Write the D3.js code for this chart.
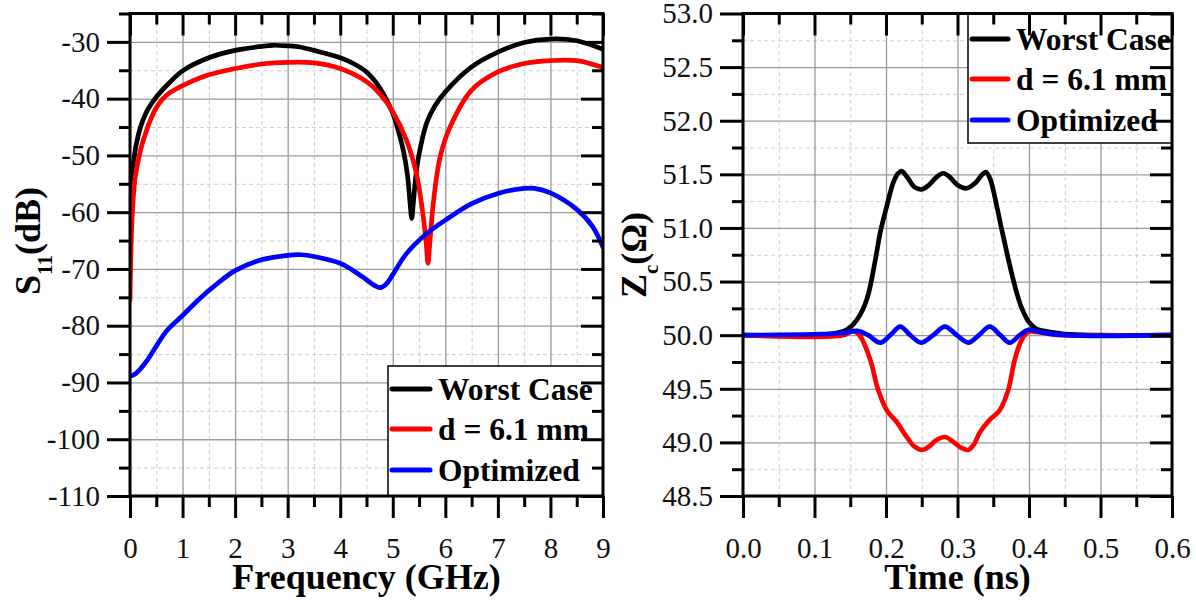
<!DOCTYPE html>
<html>
<head>
<meta charset="utf-8">
<script src="https://cdn.jsdelivr.net/npm/d3@7"></script>
<style>
  body { margin: 0; background: #fff; }
  svg { display: block; }
</style>
</head>
<body>
<svg id="chart" width="1196" height="604"></svg>
<script>
// ---- S11 vs frequency ----
const worstFreq = [0.0, 0.02, 0.07, 0.12, 0.2, 0.3, 0.4, 0.5, 0.75, 1.0, 1.5, 2.0, 2.5, 2.72, 3.0, 3.23, 3.5, 4.0, 4.25, 4.5, 4.76, 5.0, 5.1, 5.2, 5.28, 5.33, 5.36, 5.39, 5.44, 5.49, 5.64, 5.8, 6.0, 6.5, 7.0, 7.5, 8.0, 8.5, 9.0];
const worstS11 = [-58, -54, -50.9, -48, -45, -42.6, -41.0, -39.7, -37.2, -35.1, -32.8, -31.5, -30.8, -30.6, -30.7, -30.9, -31.5, -32.8, -33.8, -35.3, -38.2, -42.6, -45.5, -49.1, -53.5, -58.5, -61.1, -58.5, -53.5, -50.3, -44.4, -41.3, -38.8, -34.4, -31.8, -30.1, -29.5, -29.8, -31.3];

const d61Freq = [0.0, 0.01, 0.02, 0.04, 0.07, 0.1, 0.2, 0.3, 0.4, 0.5, 0.6, 0.75, 1.0, 1.5, 2.0, 2.5, 3.0, 3.5, 4.0, 4.5, 4.76, 5.0, 5.26, 5.45, 5.58, 5.64, 5.67, 5.7, 5.77, 5.9, 6.09, 6.5, 7.0, 7.5, 8.0, 8.5, 9.0];
const d61S11 = [-75.5, -70, -66, -61, -56.5, -53.8, -49.1, -46, -43.5, -41.6, -40.3, -39.0, -37.7, -35.8, -34.7, -33.9, -33.6, -33.7, -34.7, -37.0, -39.2, -42.3, -47.3, -53.2, -60.8, -66, -69.0, -66, -58.5, -50.3, -45.0, -38.5, -35.3, -33.8, -33.3, -33.3, -34.5];

const optFreq = [0.0, 0.1, 0.2, 0.35, 0.5, 0.7, 1.0, 1.33, 1.66, 2.0, 2.5, 3.0, 3.25, 3.5, 4.0, 4.25, 4.5, 4.65, 4.76, 4.88, 5.0, 5.26, 5.64, 6.0, 6.5, 7.0, 7.5, 7.7, 8.0, 8.5, 8.8, 9.0];
const optS11 = [-88.9, -88.5, -87.6, -85.8, -83.6, -80.9, -78.2, -75.2, -72.6, -70.3, -68.4, -67.6, -67.5, -67.8, -69.0, -70.3, -71.9, -72.9, -73.3, -72.6, -71.0, -67.3, -63.8, -61.4, -58.5, -56.7, -55.8, -55.8, -56.6, -59.5, -62.5, -66.2];

// ---- Characteristic impedance vs time ----
const worstTime = [0, 0.1, 0.13, 0.145, 0.159, 0.173, 0.185, 0.192, 0.201, 0.21, 0.217, 0.222, 0.23, 0.24, 0.25, 0.26, 0.27, 0.28, 0.29, 0.3, 0.313, 0.325, 0.335, 0.34, 0.346, 0.355, 0.362, 0.369, 0.376, 0.383, 0.39, 0.4, 0.41, 0.42, 0.45, 0.5, 0.6];
const worstZc = [50.0, 50.0, 50.02, 50.05, 50.14, 50.33, 50.7, 50.96, 51.2, 51.42, 51.51, 51.53, 51.47, 51.38, 51.36, 51.4, 51.47, 51.51, 51.47, 51.4, 51.37, 51.42, 51.5, 51.52, 51.45, 51.2, 50.98, 50.77, 50.57, 50.39, 50.25, 50.12, 50.06, 50.04, 50.01, 50.0, 50.0];

const d61Time = [0, 0.14, 0.154, 0.164, 0.178, 0.189, 0.201, 0.215, 0.229, 0.24, 0.25, 0.26, 0.27, 0.2825, 0.295, 0.305, 0.315, 0.323, 0.331, 0.345, 0.359, 0.371, 0.38, 0.39, 0.399, 0.41, 0.43, 0.45, 0.6];
const d61Zc = [50.0, 50.0, 50.04, 49.99, 49.77, 49.49, 49.3, 49.19, 49.05, 48.96, 48.93, 48.96, 49.02, 49.05, 49.0, 48.95, 48.93, 48.98, 49.09, 49.21, 49.3, 49.49, 49.77, 49.96, 50.03, 50.03, 50.01, 50.0, 50.0];

const optTime = [0, 0.14, 0.16, 0.175, 0.192, 0.206, 0.22, 0.234, 0.249, 0.266, 0.2825, 0.299, 0.315, 0.33, 0.345, 0.36, 0.373, 0.387, 0.399, 0.415, 0.45, 0.6];
const optZc = [50.0, 50.02, 50.04, 50.0, 49.93, 50.0, 50.08, 50.0, 49.93, 50.0, 50.08, 50.0, 49.93, 50.0, 50.08, 50.0, 49.93, 50.0, 50.05, 50.03, 50.0, 50.0];

// ---- Axis ticks and labels ----
const freqTicks = [0, 1, 2, 3, 4, 5, 6, 7, 8, 9];
const freqMinor = [0.5, 1.5, 2.5, 3.5, 4.5, 5.5, 6.5, 7.5, 8.5];
const s11Ticks = [-110, -100, -90, -80, -70, -60, -50, -40, -30];
const s11Minor = [-105, -95, -85, -75, -65, -55, -45, -35, -25];
const timeTicks = [0, 0.1, 0.2, 0.3, 0.4, 0.5, 0.6];
const timeMinor = [0.05, 0.15, 0.25, 0.35, 0.45, 0.55];
const zcTicks = [48.5, 49.0, 49.5, 50.0, 50.5, 51.0, 51.5, 52.0, 52.5, 53.0];
const zcMinor = [48.75, 49.25, 49.75, 50.25, 50.75, 51.25, 51.75, 52.25, 52.75];

const seriesNames = ["Worst Case", "d = 6.1 mm", "Optimized"];
const seriesColors = ["#000000", "#ff0000", "#0000ff"];

const SERIF = "Liberation Serif";
const svg = d3.select("#chart");

function styleTicks(sel, keepText) {
  sel.select(".domain").remove();
  sel.selectAll(".tick line").attr("stroke", "#000").attr("stroke-width", 3);
  if (keepText) {
    sel.selectAll(".tick text")
      .style("font-family", SERIF).style("font-size", "29px").attr("fill", "#111");
  } else {
    sel.selectAll(".tick text").remove();
  }
}

function drawPanel(p) {
  const x = d3.scaleLinear().domain(p.xDomain).range([p.x0, p.x1]);
  const y = d3.scaleLinear().domain(p.yDomain).range([p.y1, p.y0]);
  const W = p.x1 - p.x0, H = p.y1 - p.y0;
  const g = svg.append("g");

  // grid: dashed minor, solid major
  const gridMinorStyle = s => { s.select(".domain").remove(); s.selectAll("text").remove(); s.selectAll("line").attr("stroke", "#cfcfcf").attr("stroke-width", 1).attr("stroke-dasharray", "4,3"); };
  const gridMajorStyle = s => { s.select(".domain").remove(); s.selectAll("text").remove(); s.selectAll("line").attr("stroke", "#9a9a9a").attr("stroke-width", 1.3); };
  g.append("g").attr("transform", `translate(0,${p.y1})`)
    .call(d3.axisBottom(x).tickValues(p.xMinor).tickSize(-H)).call(gridMinorStyle);
  g.append("g").attr("transform", `translate(${p.x0},0)`)
    .call(d3.axisLeft(y).tickValues(p.yMinor).tickSize(-W)).call(gridMinorStyle);
  g.append("g").attr("transform", `translate(0,${p.y1})`)
    .call(d3.axisBottom(x).tickValues(p.xMajor).tickSize(-H)).call(gridMajorStyle);
  g.append("g").attr("transform", `translate(${p.x0},0)`)
    .call(d3.axisLeft(y).tickValues(p.yMajor).tickSize(-W)).call(gridMajorStyle);

  // curves
  const clipId = "clip" + p.id;
  svg.append("clipPath").attr("id", clipId)
    .append("rect").attr("x", p.x0).attr("y", p.y0).attr("width", W).attr("height", H);
  const line = d3.line().x(d => x(d[0])).y(d => y(d[1])).curve(d3.curveCatmullRom.alpha(0.5));
  const curves = g.append("g").attr("clip-path", `url(#${clipId})`);
  p.series.forEach((s, i) => {
    curves.append("path")
      .datum(d3.zip(s.x, s.y))
      .attr("d", line)
      .attr("fill", "none")
      .attr("stroke", seriesColors[i])
      .attr("stroke-width", 4.7)
      .attr("stroke-linejoin", "round")
      .attr("stroke-linecap", "round");
  });

  // legend
  const L = p.legend;
  const lg = g.append("g");
  lg.append("rect")
    .attr("x", L.x0).attr("y", L.y0).attr("width", L.x1 - L.x0).attr("height", L.y1 - L.y0)
    .attr("fill", "#fff").attr("stroke", "#000").attr("stroke-width", 1.5);
  seriesNames.forEach((name, i) => {
    const ly = L.rows[i];
    lg.append("line").attr("x1", L.lineX0).attr("x2", L.lineX1).attr("y1", ly).attr("y2", ly)
      .attr("stroke", seriesColors[i]).attr("stroke-width", 5).attr("stroke-linecap", "round");
    lg.append("text").attr("x", L.textX).attr("y", ly + 11)
      .style("font-family", SERIF).style("font-size", "31.5px").style("font-weight", "bold")
      .attr("fill", "#000").text(name);
  });

  // frame
  g.append("rect").attr("x", p.x0).attr("y", p.y0).attr("width", W).attr("height", H)
    .attr("fill", "none").attr("stroke", "#000").attr("stroke-width", 3);

  // ticks: outward on bottom/left, inward on top/right
  g.append("g").attr("transform", `translate(0,${p.y1})`)
    .call(d3.axisBottom(x).tickValues(p.xMajor).tickSize(22).tickPadding(19).tickFormat(p.xFmt))
    .call(s => styleTicks(s, true));
  g.append("g").attr("transform", `translate(0,${p.y1})`)
    .call(d3.axisBottom(x).tickValues(p.xMinor).tickSize(11))
    .call(s => styleTicks(s, false));
  g.append("g").attr("transform", `translate(0,${p.y0})`)
    .call(d3.axisTop(x).tickValues(p.xMajor).tickSize(-22))
    .call(s => styleTicks(s, false));
  g.append("g").attr("transform", `translate(0,${p.y0})`)
    .call(d3.axisTop(x).tickValues(p.xMinor).tickSize(-11))
    .call(s => styleTicks(s, false));
  g.append("g").attr("transform", `translate(${p.x0},0)`)
    .call(d3.axisLeft(y).tickValues(p.yMajor).tickSize(23).tickPadding(7).tickFormat(p.yFmt))
    .call(s => styleTicks(s, true));
  g.append("g").attr("transform", `translate(${p.x0},0)`)
    .call(d3.axisLeft(y).tickValues(p.yMinor).tickSize(11))
    .call(s => styleTicks(s, false));
  g.append("g").attr("transform", `translate(${p.x1},0)`)
    .call(d3.axisRight(y).tickValues(p.yMajor).tickSize(-22))
    .call(s => styleTicks(s, false));
  g.append("g").attr("transform", `translate(${p.x1},0)`)
    .call(d3.axisRight(y).tickValues(p.yMinor).tickSize(-11))
    .call(s => styleTicks(s, false));

  // axis titles
  g.append("text").attr("x", (p.x0 + p.x1) / 2).attr("y", 589)
    .style("font-family", SERIF).style("font-size", "36px").style("font-weight", "bold")
    .attr("text-anchor", "middle").attr("fill", "#000")
    .text(p.xTitle);
  const yt = g.append("text")
    .attr("transform", `translate(${p.yTitleX},${p.yTitleY}) rotate(-90)`)
    .style("font-family", SERIF).style("font-size", "36px").style("font-weight", "bold")
    .attr("text-anchor", "middle").attr("fill", "#000");
  yt.append("tspan").text(p.yTitle[0]);
  yt.append("tspan").style("font-size", "21px").attr("dy", 12).text(p.yTitle[1]);
  yt.append("tspan").attr("dy", -12).text(p.yTitle[2]);
}

drawPanel({
  id: "s11",
  x0: 130, x1: 603, y0: 13.5, y1: 496,
  xDomain: [0, 9], yDomain: [-110, -25],
  xMajor: freqTicks, xMinor: freqMinor, yMajor: s11Ticks, yMinor: s11Minor,
  xFmt: d => String(d), yFmt: d => String(d),
  series: [
    { x: worstFreq, y: worstS11 },
    { x: d61Freq, y: d61S11 },
    { x: optFreq, y: optS11 }
  ],
  legend: { x0: 388, y0: 366, x1: 603, y1: 496, lineX0: 392, lineX1: 430, textX: 438, rows: [389, 429, 470] },
  xTitle: "Frequency (GHz)",
  yTitle: ["S", "11", "(dB)"], yTitleX: 40, yTitleY: 241
});

drawPanel({
  id: "zc",
  x0: 743, x1: 1172, y0: 13.5, y1: 496,
  xDomain: [0, 0.6], yDomain: [48.5, 53.0],
  xMajor: timeTicks, xMinor: timeMinor, yMajor: zcTicks, yMinor: zcMinor,
  xFmt: d3.format(".1f"), yFmt: d3.format(".1f"),
  series: [
    { x: worstTime, y: worstZc },
    { x: d61Time, y: d61Zc },
    { x: optTime, y: optZc }
  ],
  legend: { x0: 968, y0: 13.5, x1: 1172, y1: 143, lineX0: 972, lineX1: 1008, textX: 1016, rows: [39, 79, 120] },
  xTitle: "Time (ns)",
  yTitle: ["Z", "c", "(\u03A9)"], yTitleX: 646, yTitleY: 255
});
</script>
</body>
</html>
